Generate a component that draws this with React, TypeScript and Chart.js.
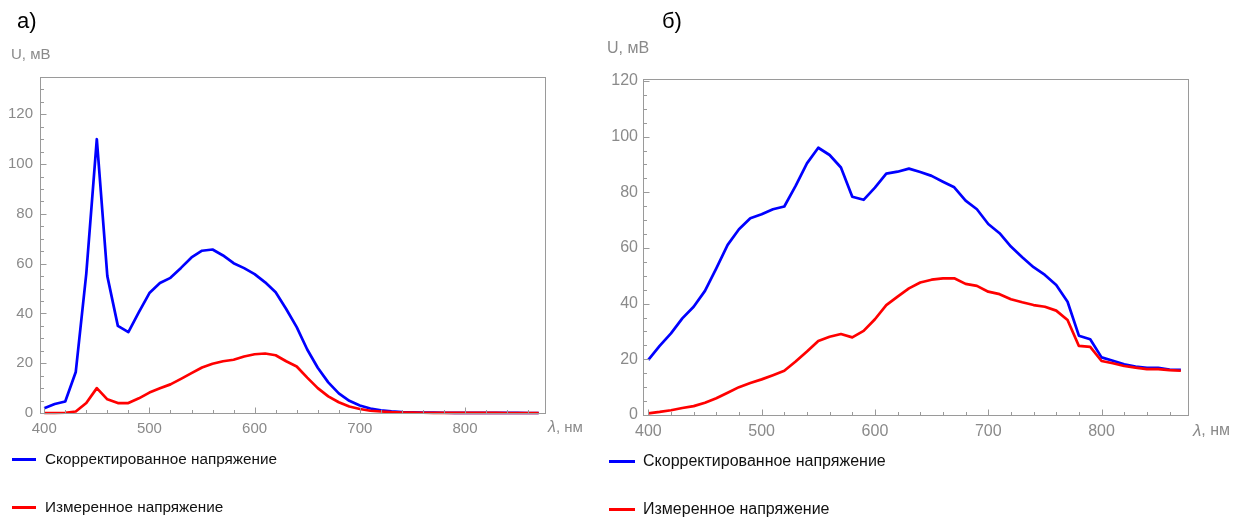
import React, { useEffect, useRef } from "react";
import { Chart, registerables } from "chart.js";

Chart.register(...registerables);

// ---------- data ----------
const WAVELENGTHS = [
  400, 410, 420, 430, 440, 450, 460, 470, 480, 490, 500, 510, 520, 530, 540, 550,
  560, 570, 580, 590, 600, 610, 620, 630, 640, 650, 660, 670, 680, 690, 700, 710,
  720, 730, 740, 750, 760, 770, 780, 790, 800, 810, 820, 830, 840, 850, 860, 870,
];

// panel а)
const A_CORRECTED = [
  1.9, 3.6, 4.6, 16.5, 56, 110, 55, 35, 32.5, 40.5, 48.2, 52.2, 54.3, 58.3, 62.5, 65.2,
  65.7, 63.3, 60.2, 58.2, 55.8, 52.5, 48.5, 41.8, 34.5, 25.5, 18.2, 12.3, 7.9, 4.9, 3.0, 1.8,
  1.1, 0.7, 0.4, 0.3, 0.2, 0.15, 0.1, 0.08, 0.06, 0.05, 0.04, 0.03, 0.02, 0.02, 0.01, 0.01,
];
const A_MEASURED = [
  0, 0, 0.1, 0.6, 4, 10, 5.5, 4, 4, 5.9, 8.2, 9.9, 11.5, 13.7, 16, 18.3,
  19.8, 20.8, 21.4, 22.7, 23.6, 23.9, 23.2, 20.8, 18.7, 14.2, 10, 6.7, 4.3, 2.6, 1.6, 0.9,
  0.6, 0.35, 0.2, 0.15, 0.1, 0.08, 0.06, 0.05, 0.04, 0.03, 0.02, 0.02, 0.01, 0.01, 0.01, 0.01,
];

// panel б)
const B_CORRECTED = [
  19.8, 24.8, 29.3, 34.7, 38.9, 44.6, 52.7, 61.1, 66.7, 70.7, 72.1, 73.9, 74.9, 82.3, 90.4, 96,
  93.4, 88.9, 78.4, 77.3, 81.7, 86.7, 87.4, 88.5, 87.3, 85.9, 83.8, 81.8, 77, 73.9, 68.6, 65.3,
  60.5, 56.7, 53.1, 50.3, 46.7, 40.7, 28.5, 27.2, 20.7, 19.5, 18.2, 17.4, 16.9, 16.9, 16.3, 16.2,
];
const B_MEASURED = [
  0.6, 1.1, 1.7, 2.5, 3.2, 4.4, 6.0, 8.0, 10.0, 11.5, 12.8, 14.3, 15.9, 19.2, 22.8, 26.6,
  28.1, 29.1, 27.9, 30.2, 34.4, 39.5, 42.5, 45.5, 47.6, 48.6, 49.1, 49.1, 47.1, 46.4, 44.3, 43.4,
  41.6, 40.5, 39.5, 38.9, 37.5, 34.1, 24.8, 24.5, 19.4, 18.6, 17.6, 17, 16.5, 16.5, 16.1, 15.9,
];

const SERIES_NAMES = ["Скорректированное напряжение", "Измеренное напряжение"];
const SERIES_COLORS = ["#0000ff", "#ff0000"];
const PANEL_TITLES = ["а)", "б)"];
const Y_AXIS_LABEL = "U, мВ";
const X_AXIS_SYMBOL = "λ";
const X_AXIS_UNIT = ", нм";

const X_MAJOR_STEP = 100;
const X_MINOR_STEP = 20;
const Y_MAJOR_STEP = 20;
const Y_MINOR_STEP = 5;

const FONT = '"Liberation Sans", Arial, Helvetica, sans-serif';
const GRAY_TEXT = "#8a8a8a";
const FRAME = "#9a9a9a";

type Panel = {
  title: string;
  corrected: number[];
  measured: number[];
  canvasLeft: number;
  canvasWidth: number;
  padTop: number;
  padRight: number;
  yWidth: number;
  xHeight: number;
  xMin: number;
  xMax: number;
  yMax: number;
  fontSize: number;
  yTickPad: number;
  xTickPad: number;
  uDx: number;
  uDy: number;
  lDx: number;
  lDy: number;
  titleLeft: number;
  legendLineLeft: number;
  legendLineWidth: number;
  legendTextLeft: number;
  legendFont: number;
  legendY: number[];
};

const PANELS: Panel[] = [
  {
    title: PANEL_TITLES[0],
    corrected: A_CORRECTED,
    measured: A_MEASURED,
    canvasLeft: 0,
    canvasWidth: 600,
    padTop: 77,
    padRight: 55,
    yWidth: 40,
    xHeight: 111,
    xMin: 396,
    xMax: 876,
    yMax: 135,
    fontSize: 15,
    yTickPad: 7,
    xTickPad: 7,
    uDx: -29,
    uDy: -22,
    lDx: 3,
    lDy: 15,
    titleLeft: 17,
    legendLineLeft: 12,
    legendLineWidth: 24,
    legendTextLeft: 45,
    legendFont: 15.3,
    legendY: [459, 507],
  },
  {
    title: PANEL_TITLES[1],
    corrected: B_CORRECTED,
    measured: B_MEASURED,
    canvasLeft: 600,
    canvasWidth: 648,
    padTop: 79,
    padRight: 60,
    yWidth: 43,
    xHeight: 109,
    xMin: 395.3,
    xMax: 876.3,
    yMax: 120.7,
    fontSize: 16,
    yTickPad: 5,
    xTickPad: 7,
    uDx: -36,
    uDy: -30,
    lDx: 5,
    lDy: 16,
    titleLeft: 662,
    legendLineLeft: 609,
    legendLineWidth: 26,
    legendTextLeft: 643,
    legendFont: 16,
    legendY: [461, 509],
  },
];

const framePlugin = {
  id: "mmaFrame",
  afterDraw(chart: any, _args: any, opts: any) {
    const { ctx, chartArea: a, scales } = chart;
    const xs = scales.x;
    const ys = scales.y;
    const L = Math.round(a.left) + 0.5;
    const R = Math.round(a.right) + 0.5;
    const T = Math.round(a.top) + 0.5;
    const B = Math.round(a.bottom) + 0.5;
    ctx.save();
    ctx.strokeStyle = FRAME;
    ctx.lineWidth = 1;
    ctx.strokeRect(L, T, R - L, B - T);
    ctx.beginPath();
    for (let v = Math.ceil(xs.min / X_MINOR_STEP) * X_MINOR_STEP; v <= xs.max; v += X_MINOR_STEP) {
      const px = Math.round(xs.getPixelForValue(v)) + 0.5;
      const len = v % X_MAJOR_STEP === 0 ? 6 : 3.5;
      ctx.moveTo(px, B);
      ctx.lineTo(px, B - len);
    }
    for (let v = 0; v <= ys.max; v += Y_MINOR_STEP) {
      const py = Math.round(ys.getPixelForValue(v)) + 0.5;
      const len = v % Y_MAJOR_STEP === 0 ? 6 : 3.5;
      ctx.moveTo(L, py);
      ctx.lineTo(L + len, py);
    }
    ctx.stroke();

    // axis labels
    const fs = opts.fontSize;
    ctx.fillStyle = GRAY_TEXT;
    ctx.textBaseline = "middle";
    ctx.textAlign = "left";
    ctx.font = `${fs}px ${FONT}`;
    ctx.fillText(Y_AXIS_LABEL, a.left + opts.uDx, a.top + opts.uDy);
    const lx = a.right + opts.lDx;
    const ly = a.bottom + opts.lDy;
    ctx.font = `italic ${fs + 1}px ${FONT}`;
    ctx.fillText(X_AXIS_SYMBOL, lx, ly);
    const w = ctx.measureText(X_AXIS_SYMBOL).width;
    ctx.font = `${fs}px ${FONT}`;
    ctx.fillText(X_AXIS_UNIT, lx + w, ly);
    ctx.restore();
  },
};

function PanelChart({ p }: { p: Panel }) {
  const ref = useRef<HTMLCanvasElement | null>(null);
  useEffect(() => {
    if (!ref.current) return;
    const chart = new Chart(ref.current, {
      type: "line",
      data: {
        datasets: [
          {
            label: SERIES_NAMES[0],
            data: WAVELENGTHS.map((x, i) => ({ x, y: p.corrected[i] })),
            borderColor: SERIES_COLORS[0],
            borderWidth: 2.7,
            pointRadius: 0,
            tension: 0,
            clip: false as any,
            order: 1,
            borderJoinStyle: "round",
          },
          {
            label: SERIES_NAMES[1],
            data: WAVELENGTHS.map((x, i) => ({ x, y: p.measured[i] })),
            borderColor: SERIES_COLORS[1],
            borderWidth: 2.7,
            pointRadius: 0,
            tension: 0,
            clip: false as any,
            order: 0,
            borderJoinStyle: "round",
          },
        ],
      },
      options: {
        responsive: false,
        animation: false,
        events: [],
        layout: { padding: { top: p.padTop, right: p.padRight, left: 0, bottom: 0 } },
        plugins: {
          legend: { display: false },
          tooltip: { enabled: false },
          mmaFrame: p as any,
        } as any,
        scales: {
          x: {
            type: "linear",
            min: p.xMin,
            max: p.xMax,
            grid: { display: false, drawTicks: false },
            border: { display: false },
            ticks: {
              stepSize: X_MAJOR_STEP,
              includeBounds: false,
              color: GRAY_TEXT,
              font: { family: FONT, size: p.fontSize },
              padding: p.xTickPad,
              maxRotation: 0,
            },
            afterFit: (s: any) => {
              s.height = p.xHeight;
            },
          },
          y: {
            type: "linear",
            min: 0,
            max: p.yMax,
            grid: { display: false, drawTicks: false },
            border: { display: false },
            ticks: {
              stepSize: Y_MAJOR_STEP,
              includeBounds: false,
              color: GRAY_TEXT,
              font: { family: FONT, size: p.fontSize },
              padding: p.yTickPad,
            },
            afterFit: (s: any) => {
              s.width = p.yWidth;
            },
          },
        },
      } as any,
      plugins: [framePlugin as any],
    });
    return () => chart.destroy();
  }, [p]);

  return (
    <canvas
      ref={ref}
      width={p.canvasWidth}
      height={524}
      style={{ position: "absolute", left: p.canvasLeft, top: 0, width: p.canvasWidth, height: 524 }}
    />
  );
}

export default function App() {
  return (
    <div
      style={{
        position: "fixed",
        left: 0,
        top: 0,
        width: 1248,
        height: 524,
        background: "#fff",
        overflow: "hidden",
        fontFamily: FONT,
      }}
    >
      {PANELS.map((p, k) => (
        <PanelChart key={"c" + k} p={p} />
      ))}
      {PANELS.map((p, k) => (
        <div
          key={"t" + k}
          style={{
            position: "absolute",
            left: p.titleLeft,
            top: 10,
            fontSize: 22,
            lineHeight: "22px",
            color: "#000",
            whiteSpace: "nowrap",
          }}
        >
          {p.title}
        </div>
      ))}
      {PANELS.map((p, k) =>
        SERIES_NAMES.map((name, i) => (
          <React.Fragment key={`l${k}-${i}`}>
            <div
              style={{
                position: "absolute",
                left: p.legendLineLeft,
                top: p.legendY[i] - 1.5,
                width: p.legendLineWidth,
                height: 3,
                background: SERIES_COLORS[i],
              }}
            />
            <div
              style={{
                position: "absolute",
                left: p.legendTextLeft,
                top: p.legendY[i] - 10,
                fontSize: p.legendFont,
                lineHeight: "20px",
                color: "#111",
                whiteSpace: "nowrap",
              }}
            >
              {name}
            </div>
          </React.Fragment>
        ))
      )}
    </div>
  );
}
